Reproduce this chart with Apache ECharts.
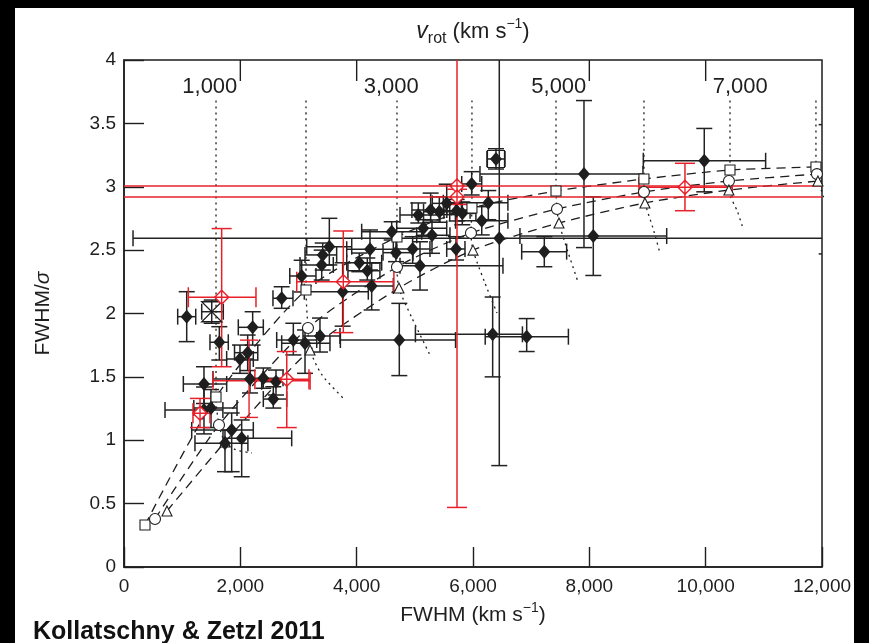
<!DOCTYPE html>
<html><head><meta charset="utf-8">
<script src="https://cdn.jsdelivr.net/npm/echarts@6/dist/echarts.min.js"></script>
<style>
html,body{margin:0;padding:0;background:#000;}
#bg{position:absolute;left:15px;top:8px;width:839px;height:635px;background:#fff;}
#chart{position:absolute;left:0;top:0;width:869px;height:643px;}
</style></head><body>
<div id="bg"></div><div id="chart"></div>
<script>
// ---------- data ----------
const xTickStep = 2000;
const yTickStep = 0.5;
const vrotTickFwhm = [2000, 4000, 8000, 10000];
const vrotTickLabels = ['1,000', '3,000', '5,000', '7,000'];
const vrotLabelSide = ['left', 'right', 'left', 'right'];

// [FWHM, FWHM/sigma, FWHM low, FWHM high, ratio low, ratio high]
const blackPoints = [
  [1078, 1.975, 923, 1233, 1.778, 2.172],
  [1639, 1.773, 1478, 1793, 1.633, 1.896],
  [2212, 1.891, 1965, 2395, 1.751, 2.014],
  [1994, 1.641, 1765, 2223, 1.528, 1.751],
  [2126, 1.691, 1900, 2300, 1.55, 1.83],
  [1375, 1.444, 1020, 1765, 1.29, 1.58],
  [2166, 1.483, 1530, 2390, 1.373, 1.633],
  [2395, 1.489, 2166, 2734, 1.41, 1.57],
  [2613, 1.462, 2367, 2797, 1.357, 1.554],
  [2567, 1.325, 2395, 2797, 1.254, 1.422],
  [2711, 2.12, 2561, 2905, 2.041, 2.211],
  [2911, 1.791, 2625, 3313, 1.673, 1.923],
  [3112, 1.765, 2711, 3541, 1.528, 1.87],
  [3369, 1.822, 3077, 3713, 1.696, 1.964],
  [1375, 1.239, 705, 1700, 1.05, 1.42],
  [1496, 1.254, 1200, 1943, 1.10, 1.40],
  [1851, 1.081, 1164, 2223, 0.752, 1.215],
  [2023, 1.015, 1702, 2883, 0.712, 1.16],
  [1736, 0.976, 1220, 2130, 0.752, 1.08],
  [3055, 2.296, 2850, 3300, 2.17, 2.42],
  [3399, 2.383, 3026, 3598, 2.264, 2.50],
  [3416, 2.462, 3112, 3656, 2.343, 2.556],
  [3530, 2.527, 3141, 3915, 2.383, 2.751],
  [3759, 2.172, 3100, 4200, 1.90, 2.40],
  [4045, 2.401, 3829, 4430, 2.33, 2.477],
  [4183, 2.338, 3850, 4400, 2.264, 2.438],
  [4258, 2.217, 3766, 4630, 2.028, 2.398],
  [4229, 2.507, 3829, 4630, 2.343, 2.659],
  [4602, 2.645, 4086, 5118, 2.58, 2.724],
  [4676, 2.48, 4453, 4968, 2.409, 2.645],
  [4962, 2.509, 4688, 5260, 2.396, 2.606],
  [5089, 2.377, 4745, 6515, 2.185, 2.566],
  [5295, 2.617, 5032, 5604, 2.475, 2.738],
  [5146, 2.672, 4688, 5548, 2.61, 2.74],
  [5060, 2.777, 4745, 5432, 2.714, 2.872],
  [5272, 2.817, 4950, 5550, 2.72, 2.95],
  [5421, 2.803, 5150, 5700, 2.72, 2.92],
  [5548, 2.869, 5300, 5800, 2.78, 3.02],
  [5719, 2.811, 5500, 5950, 2.73, 2.90],
  [5816, 2.79, 5600, 6050, 2.70, 2.88],
  [5977, 3.022, 5806, 6150, 2.935, 3.119],
  [6263, 2.874, 5490, 6600, 2.74, 2.97],
  [6150, 2.732, 5700, 6600, 2.62, 2.843],
  [6452, 2.593, 155, 13000, 0.80, 4.5],
  [5708, 2.509, 5548, 5862, 2.422, 2.606],
  [4733, 1.791, 3720, 5700, 1.51, 2.08],
  [6338, 1.836, 5010, 6850, 1.50, 2.13],
  [6923, 1.817, 6210, 7640, 1.70, 1.96],
  [7908, 3.10, 6120, 8922, 2.52, 3.68],
  [8068, 2.611, 6807, 9330, 2.30, 2.92],
  [7226, 2.488, 6837, 7610, 2.369, 2.606],
  [9976, 3.205, 8928, 11031, 2.96, 3.46],
  [12080, 3.05, 12000, 12160, 2.47, 3.49]
];
const boxedPoints = [[6395, 3.219, 6240, 6550, 3.14, 3.30]];
const bowtiePoints = [[1508, 2.014, 1336, 1707, 1.923, 2.106]];
const redPoints = [
  [1679, 2.128, 1106, 2269, 1.58, 2.67],
  [2798, 1.481, 2250, 3180, 1.10, 1.70],
  [1307, 1.213, 1186, 1478, 1.10, 1.33],
  [3770, 2.251, 2970, 4640, 1.849, 2.651],
  [5725, 3.006, -2000, 14000, 0.47, 4.5],
  [5725, 2.919, -2000, 14000, 2.86, 2.98],
  [9644, 2.996, 8853, 10457, 2.811, 3.185]
];
const redBarsOnly = [[2150, 1.47, 1530, 3200, 1.18, 1.79]];

const modelSquare = [[361,0.331],[1582,1.341],[3129,2.185],[4693,2.604],[5982,2.832],[7427,2.966],[8939,3.061],[10418,3.132],[11896,3.156]];
const modelCircle = [[533,0.379],[1633,1.12],[3163,1.886],[4693,2.367],[5965,2.635],[7444,2.824],[8939,2.959],[10400,3.045],[11913,3.10]];
const modelTriangle = [[739,0.442],[1736,0.986],[3198,1.712],[4727,2.201],[6000,2.50],[7478,2.714],[8956,2.872],[10400,2.974],[11930,3.045]];

const vrot1000 = [[1582,3.68],[1582,1.341],[1633,1.12],[1736,0.986],[1920,0.925],[2200,0.9]];
const vrot2000 = [[3129,3.68],[3129,2.185],[3163,1.886],[3198,1.712],[3404,1.515],[3799,1.318]];
const vrot3000 = [[4693,3.68],[4693,2.604],[4693,2.367],[4727,2.201],[4951,1.964],[5260,1.673]];
const vrot4000 = [[5982,3.68],[5982,2.832],[5965,2.635],[6000,2.50],[6206,2.24],[6412,2.004]];
const vrot5000 = [[7427,3.68],[7427,2.966],[7444,2.824],[7478,2.714],[7633,2.485],[7805,2.249]];
const vrot6000 = [[8939,3.68],[8939,3.061],[8939,2.959],[8956,2.872],[9094,2.674],[9214,2.477]];
const vrot7000 = [[10418,3.68],[10418,3.132],[10400,3.045],[10400,2.974],[10550,2.80],[10641,2.674]];
const vrot8000 = [[11896,3.68],[11896,3.156],[11913,3.10],[11930,3.045],[12050,2.9]];

// ---------- chart ----------
const FONT = '"Liberation Sans", Arial, sans-serif';
const INK = '#1e1e1e';
const RED = '#e8202a';

function errorBars(rows, color, width, cap, z) {
  return {
    type: 'custom', clip: true, z: z, silent: true,
    data: rows.map(r => r.slice(0, 6)),
    renderItem: function (params, api) {
      const x = api.value(0), y = api.value(1);
      const xl = api.coord([api.value(2), y]), xh = api.coord([api.value(3), y]);
      const yl = api.coord([x, api.value(4)]), yh = api.coord([x, api.value(5)]);
      const st = { stroke: color, lineWidth: width };
      const L = (x1, y1, x2, y2) => ({ type: 'line', shape: { x1, y1, x2, y2 }, style: st });
      return { type: 'group', children: [
        L(xl[0], xl[1], xh[0], xh[1]),
        L(xl[0], xl[1] - cap, xl[0], xl[1] + cap),
        L(xh[0], xh[1] - cap, xh[0], xh[1] + cap),
        L(yl[0], yl[1], yh[0], yh[1]),
        L(yl[0] - cap, yl[1], yl[0] + cap, yl[1]),
        L(yh[0] - cap, yh[1], yh[0] + cap, yh[1])
      ]};
    }
  };
}
function curve(data, type, z) {
  return { type: 'line', data: data, smooth: 0.25, symbol: 'none', clip: true, z: z, silent: true,
    lineStyle: { color: INK, width: 1.3, type: type } };
}
function markers(data, symbol, size, fill, stroke, bw, z) {
  return { type: 'scatter', data: data.map(r => [r[0], r[1]]), symbol: symbol, symbolSize: size, z: z, silent: true,
    itemStyle: { color: fill, borderColor: stroke, borderWidth: bw, opacity: 1 } };
}

const chart = echarts.init(document.getElementById('chart'), null, { renderer: 'canvas' });
const series = [
  curve(modelSquare, [9, 6], 2), curve(modelCircle, [9, 6], 2), curve(modelTriangle, [9, 6], 2),
  curve(vrot1000, [2, 4], 2), curve(vrot2000, [2, 4], 2), curve(vrot3000, [2, 4], 2), curve(vrot4000, [2, 4], 2),
  curve(vrot5000, [2, 4], 2), curve(vrot6000, [2, 4], 2), curve(vrot7000, [2, 4], 2), curve(vrot8000, [2, 4], 2),
  errorBars(blackPoints, '#222', 1.5, 8, 3),
  errorBars(boxedPoints, '#222', 1.5, 8, 3),
  errorBars(bowtiePoints, '#222', 1.5, 8, 3),
  errorBars(redBarsOnly, RED, 1.4, 9, 4),
  errorBars(redPoints, RED, 1.5, 10, 4),
  markers(modelSquare, 'rect', 10, '#fff', INK, 1.1, 5),
  markers(modelCircle, 'circle', 11, '#fff', INK, 1.1, 5),
  markers(modelTriangle, 'triangle', 10, '#fff', INK, 1.1, 5),
  markers(blackPoints, 'diamond', [12, 14], INK, INK, 0, 6),
  markers(boxedPoints, 'rect', 17, 'rgba(0,0,0,0)', INK, 1.2, 6),
  markers(boxedPoints, 'diamond', [12, 14], INK, INK, 0, 6),
  markers(bowtiePoints, 'path://M-1,-1L1,-1L-1,1L1,1Z', 20, 'rgba(0,0,0,0)', INK, 1.3, 6),
  markers(redPoints, 'path://M0,-1L1,0L0,1L-1,0Z M0,-1L0,1 M-1,0L1,0', 14, '#fff', RED, 1.4, 7),
  {
    type: 'custom', z: 8, silent: true, clip: false,
    data: vrotTickFwhm.map((f, i) => [f, i]),
    renderItem: function (params, api) {
      const i = api.value(1);
      const p = api.coord([api.value(0), 4]);
      const left = vrotLabelSide[i] === 'left';
      return { type: 'group', children: [
        { type: 'line', shape: { x1: p[0], y1: p[1], x2: p[0], y2: p[1] + 21 }, style: { stroke: INK, lineWidth: 1.4 } },
        { type: 'text', x: p[0] + (left ? -3 : 7), y: p[1] + 27,
          style: { text: vrotTickLabels[i], fill: INK, fontSize: 22, fontFamily: FONT,
                   align: left ? 'right' : 'left', verticalAlign: 'middle' } }
      ]};
    }
  }
];

const fmtThousands = v => v === 0 ? '0' : (v / 1000) + ',000';

chart.setOption({
  backgroundColor: 'transparent',
  animation: false,
  title: { text: 'Kollatschny & Zetzl 2011', left: 28, top: 615,
    textStyle: { fontFamily: FONT, fontWeight: 'bold', fontSize: 25, color: '#111' } },
  grid: { left: 124, top: 60, right: 47, bottom: 76, show: true, borderColor: INK, borderWidth: 1.5, backgroundColor: 'transparent' },
  xAxis: [{
    type: 'value', min: 0, max: 12000, interval: xTickStep, position: 'bottom',
    splitLine: { show: false },
    axisLine: { show: true, lineStyle: { color: INK, width: 1.5 } },
    axisTick: { show: true, inside: true, length: 20, lineStyle: { color: INK, width: 1.4 } },
    axisLabel: { formatter: fmtThousands, fontFamily: FONT, fontSize: 19, color: INK, margin: 10, showMaxLabel: true, showMinLabel: true },
    name: '{n|FWHM (km s}{sup|−1}{n|)}', nameLocation: 'middle', nameGap: 32,
    nameTextStyle: { rich: {
      n: { fontFamily: FONT, fontSize: 21, color: INK, lineHeight: 28, verticalAlign: 'middle' },
      sup: { fontFamily: FONT, fontSize: 14, color: INK, lineHeight: 14, verticalAlign: 'top' } } }
  }, {
    type: 'value', min: 0, max: 12000, position: 'top',
    splitLine: { show: false }, axisLine: { show: false }, axisTick: { show: false }, axisLabel: { show: false },
    name: '{i|v}{sub|rot}{n| (km s}{sup|−1}{n|)}', nameLocation: 'middle', nameGap: 13,
    nameTextStyle: { rich: {
      i: { fontFamily: FONT, fontSize: 23, fontStyle: 'italic', color: INK, lineHeight: 30, verticalAlign: 'middle' },
      n: { fontFamily: FONT, fontSize: 22, color: INK, lineHeight: 30, verticalAlign: 'middle' },
      sub: { fontFamily: FONT, fontSize: 16, color: INK, lineHeight: 15, verticalAlign: 'bottom' },
      sup: { fontFamily: FONT, fontSize: 14, color: INK, lineHeight: 14, verticalAlign: 'top' } } }
  }],
  yAxis: {
    type: 'value', min: 0, max: 4, interval: yTickStep,
    splitLine: { show: false },
    axisLine: { show: true, lineStyle: { color: INK, width: 1.5 } },
    axisTick: { show: true, inside: true, length: 20, lineStyle: { color: INK, width: 1.4 } },
    axisLabel: { fontFamily: FONT, fontSize: 19, color: INK, margin: 8 },
    name: '{n|FWHM/}{i|σ}', nameLocation: 'middle', nameGap: 70, nameRotate: 90,
    nameTextStyle: { rich: {
      n: { fontFamily: FONT, fontSize: 21, color: INK },
      i: { fontFamily: FONT, fontSize: 21, fontStyle: 'italic', color: INK } } }
  },
  series: series
});
</script></body></html>
